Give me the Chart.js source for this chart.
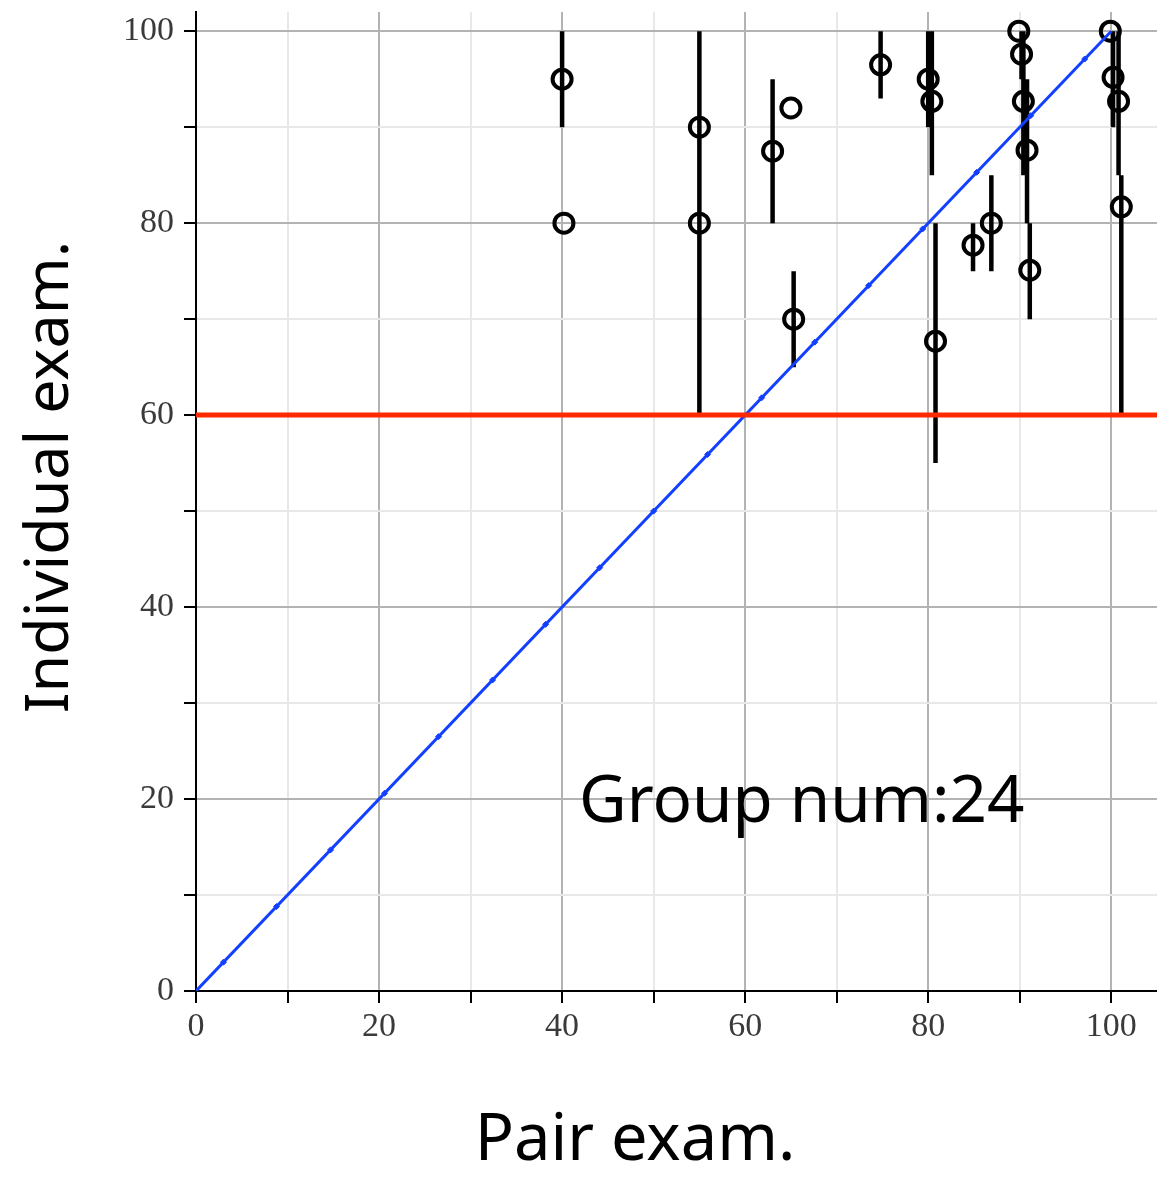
<!DOCTYPE html>
<html>
<head>
<meta charset="utf-8">
<script src="https://cdn.jsdelivr.net/npm/chart.js@4.4.1/dist/chart.umd.min.js"></script>
<style>
  html, body { margin: 0; padding: 0; background: #ffffff; }
  #wrap { width: 1157px; height: 1178px; }
</style>
</head>
<body>
<div id="wrap"><canvas id="c" width="1157" height="1178"></canvas></div>
<script>
// ---- data ----
const pairExam   = [40, 40.2, 55, 55, 63, 65, 65.3, 74.8, 80, 80.4, 80.8, 84.9, 86.9, 89.9, 90.2, 90.4, 90.8, 91.1, 99.9, 100.2, 100.8, 101.1];
const indivExam  = [95, 80, 90, 80, 87.5, 92, 70, 96.5, 95, 92.7, 67.7, 77.7, 80, 100, 97.6, 92.7, 87.6, 75.1, 100, 95.2, 92.7, 81.7];
const errLow     = [90, null, 60, 60, 80, null, 65, 93, 90, 85, 55, 75, 75, null, 95, 85, 80, 70, null, 90, 85, 60];
const errHigh    = [100, null, 100, 100, 95, null, 75, 100, 100, 100, 80, 80, 85, null, 100, 100, 95, 80, null, 100, 100, 85];
const diagX      = [0, 100];
const diagY      = [0, 100];
const diagMarks  = [3, 8.8, 14.7, 20.6, 26.5, 32.4, 38.2, 44.1, 50, 55.9, 61.8, 67.6, 73.5, 79.4, 85.3, 91.2, 97.1];
const passX      = [0, 105];
const passY      = [60, 60];
const xTickLabels = [0, 20, 40, 60, 80, 100];
const yTickLabels = [0, 20, 40, 60, 80, 100];
const xTitle = 'Pair exam.';
const yTitle = 'Individual exam.';
const noteText = 'Group num:24';

// ---- build datasets ----
const pts = pairExam.map((x, i) => ({ x: x, y: indivExam[i] }));
const bars = [];
pairExam.forEach((x, i) => {
  if (errLow[i] !== null) {
    bars.push({ x: x, y: errLow[i] });
    bars.push({ x: x, y: errHigh[i] });
    bars.push({ x: x, y: null });
  }
});
const diag = diagX.map((x, i) => ({ x: x, y: diagY[i] }));
const marks = diagMarks.map(v => ({ x: v, y: v }));
const pass = passX.map((x, i) => ({ x: x, y: passY[i] }));

const SANS = '"Noto Sans", "Liberation Sans", sans-serif';
const SERIF = '"Liberation Serif", "DejaVu Serif", serif';

const textPlugin = {
  id: 'texts',
  afterDraw(chart) {
    const ctx = chart.ctx;
    ctx.save();
    ctx.fillStyle = '#000';
    ctx.textBaseline = 'alphabetic';
    ctx.textAlign = 'center';
    ctx.font = '65px ' + SANS;
    ctx.fillText(xTitle, 635, 1160);
    ctx.save();
    ctx.translate(68, 477);
    ctx.rotate(-Math.PI / 2);
    ctx.font = '61px ' + SANS;
    ctx.fillText(yTitle, 0, 0);
    ctx.restore();
    ctx.textAlign = 'left';
    ctx.font = '65.5px ' + SANS;
    ctx.fillText(noteText, 579, 822);
    ctx.restore();
  }
};

function gridColor(ctx) {
  const v = ctx.tick ? ctx.tick.value : 0;
  return (Math.round(v) % 20 === 0) ? '#b3b3b3' : '#e8e8e8';
}

function tickCb(v) {
  return (xTickLabels.indexOf(v) >= 0) ? String(v) : '';
}
function tickCbY(v) {
  return (yTickLabels.indexOf(v) >= 0) ? String(v) : '';
}

new Chart(document.getElementById('c'), {
  type: 'scatter',
  data: {
    datasets: [
      { type: 'line', data: pass, borderColor: '#ff2a00', borderWidth: 5, pointRadius: 0, order: 1 },
      { type: 'line', data: diag, borderColor: '#1340ff', borderWidth: 3, pointRadius: 0, order: 2 },
      { type: 'scatter', data: marks, pointStyle: 'rectRot', pointRadius: 3, backgroundColor: '#1340ff', borderColor: '#1340ff', borderWidth: 1, order: 3 },
      { type: 'scatter', data: pts, pointStyle: 'circle', pointRadius: 9.5, borderWidth: 4, borderColor: '#000', backgroundColor: 'rgba(255,255,255,0)', order: 4, clip: false },
      { type: 'line', data: bars, borderColor: '#000', borderWidth: 4.5, pointRadius: 0, spanGaps: false, borderCapStyle: 'butt', order: 5 }
    ]
  },
  options: {
    responsive: false,
    animation: false,
    events: [],
    layout: { autoPadding: false, padding: { top: 12, right: 0, bottom: 0, left: 0 } },
    plugins: { legend: { display: false }, tooltip: { enabled: false } },
    scales: {
      x: {
        type: 'linear', min: 0, max: 105,
        border: { display: true, color: '#000', width: 2 },
        grid: { color: gridColor, lineWidth: 2, drawTicks: true, tickLength: 12, tickColor: '#000', tickWidth: 2 },
        ticks: { stepSize: 10, includeBounds: false, autoSkip: false, maxRotation: 0, callback: tickCb,
                 font: { family: SERIF, size: 34 }, color: '#3a3a3a', padding: 4 },
        afterFit(s) { s.height = 1178 - 991; s.paddingLeft = 0; s.paddingRight = 0; }
      },
      y: {
        type: 'linear', min: 0, max: 102,
        border: { display: true, color: '#000', width: 2 },
        grid: { color: gridColor, lineWidth: 2, drawTicks: true, tickLength: 12, tickColor: '#000', tickWidth: 2 },
        ticks: { stepSize: 10, includeBounds: false, autoSkip: false, callback: tickCbY,
                 font: { family: SERIF, size: 34 }, color: '#3a3a3a', padding: 10 },
        afterFit(s) { s.width = 196; s.paddingTop = 0; s.paddingBottom = 0; }
      }
    }
  },
  plugins: [textPlugin]
});
</script>
</body>
</html>
